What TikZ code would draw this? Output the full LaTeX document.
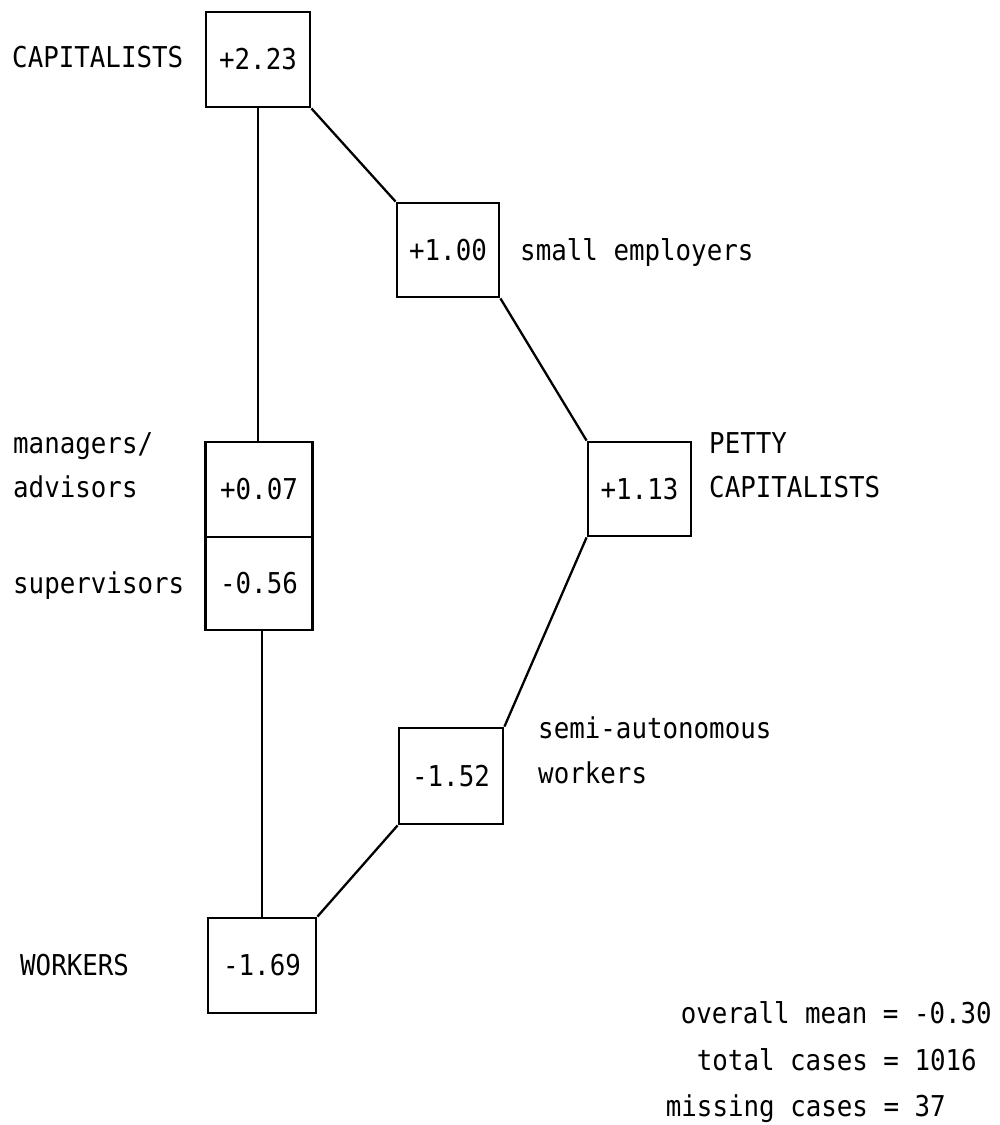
\documentclass[tikz,border=0pt]{standalone}
\usepackage{fontspec}
\setmonofont{DejaVu Sans Mono}[FakeStretch=0.9]
\begin{document}
\begin{tikzpicture}[x=1pt,y=-1pt,
  every node/.style={font=\ttfamily\fontsize{28.7}{32}\selectfont},
  valbox/.style={draw, line width=2.8pt, inner sep=0pt, minimum width=#1},
  valbox/.default=104pt,
  lbl/.style={anchor=base west, inner sep=0pt},
  stat/.style={anchor=base east, inner sep=0pt},
  link/.style={line width=2.3pt}]
  % page
  \fill[white] (0,0) rectangle (1000,1125);
  \useasboundingbox (0,0) rectangle (1000,1125);

  % value boxes
  \node[valbox=104pt, minimum height=95pt] (cap)   at (258,59.5)  {+2.23};
  \node[valbox=102pt, minimum height=94pt] (small) at (448,250)   {+1.00};
  \node[valbox=107pt, minimum height=95pt] (mgr)   at (259,489.5) {+0.07};
  \node[valbox=107pt, minimum height=93pt] (sup)   at (259,583.5) {-0.56};
  \node[valbox=103pt, minimum height=94pt] (petty) at (639.5,489) {+1.13};
  \node[valbox=104pt, minimum height=96pt] (semi)  at (451,776)   {-1.52};
  \node[valbox=108pt, minimum height=95pt] (wrk)   at (262,965.5) {-1.69};

  % connectors
  \draw[link] (cap.south) -- (cap.south |- mgr.north);
  \draw[link] (cap.south east) -- (small.north west);
  \draw[link] (small.south east) -- (petty.north west);
  \draw[link] (petty.south west) -- (semi.north east);
  \draw[link] (semi.south west) -- (wrk.north east);
  \draw[link] (wrk.north |- sup.south) -- (wrk.north);

  % class labels
  \node[lbl] (lcap)   at (12,67.5)   {CAPITALISTS};
  \node[lbl] (lsmall) at (520,260.5) {small employers};
  \node[lbl] (lmgr1)  at (13,453.5)  {managers/};
  \node[lbl] (lmgr2)  at (13,497.5)  {advisors};
  \node[lbl] (lsup)   at (13,593.5)  {supervisors};
  \node[lbl] (lpet1)  at (709,453.5) {PETTY};
  \node[lbl] (lpet2)  at (709,497.5) {CAPITALISTS};
  \node[lbl] (lsemi1) at (538,738.5) {semi-autonomous};
  \node[lbl] (lsemi2) at (538,783.5) {workers};
  \node[lbl] (lwrk)   at (20,975.5)  {WORKERS};

  % summary statistics
  \node[stat] (mean)    at (992,1023) {overall mean = -0.30};
  \node[stat] (total)   at (977,1070) {total cases = 1016};
  \node[stat] (missing) at (946,1116) {missing cases = 37};
\end{tikzpicture}
\end{document}
